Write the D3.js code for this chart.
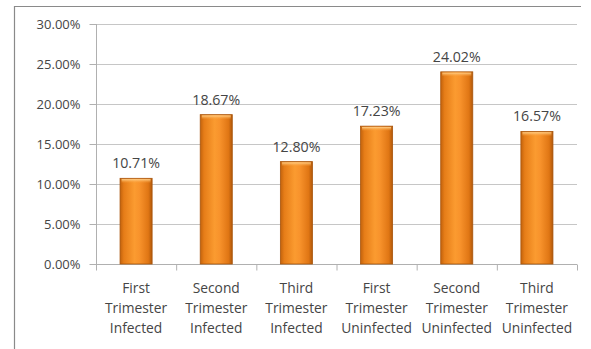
<!DOCTYPE html>
<html>
<head>
<meta charset="utf-8">
<script src="https://cdn.jsdelivr.net/npm/d3@7"></script>
<style>
  html, body { margin: 0; padding: 0; background: #fff; }
  svg { display: block; }
</style>
</head>
<body>
<svg id="chart" width="591" height="349"></svg>
<script>
// Chart data
const categories = [
  ["First", "Trimester", "Infected"],
  ["Second", "Trimester", "Infected"],
  ["Third", "Trimester", "Infected"],
  ["First", "Trimester", "Uninfected"],
  ["Second", "Trimester", "Uninfected"],
  ["Third", "Trimester", "Uninfected"]
];
const values = [10.71, 18.67, 12.80, 17.23, 24.02, 16.57];
const yTicks = [0, 5, 10, 15, 20, 25, 30];

const svg = d3.select("#chart");
const FONT = "'Open Sans', 'Liberation Sans', sans-serif";
const textColor = "#454545";

const margin = { left: 96, right: 14, top: 24, bottom: 85 };
const W = 591, H = 349;
const x0 = margin.left, x1 = W - margin.right;
const y0 = H - margin.bottom, y1 = margin.top;

// Outer frame (left and top edges)
svg.append("path")
  .attr("d", `M14.5,${H} L14.5,6.5 L581,6.5`)
  .attr("fill", "none").attr("stroke", "#8a8a8a").attr("stroke-width", 1.2);

const keys = categories.map((c, i) => i);
const x = d3.scaleBand().domain(keys).range([x0, x1]).paddingInner(0.6).paddingOuter(0.3);
const xb = d3.scaleBand().domain(keys).range([x0, x1]);
const y = d3.scaleLinear().domain([0, 30]).range([y0, y1]);

// Gradients for bar fill
const defs = svg.append("defs");
const g = defs.append("linearGradient").attr("id", "barGrad").attr("x1", "0").attr("x2", "1").attr("y1", "0").attr("y2", "0");
[[0, "#c2620c"], [0.12, "#e67d18"], [0.45, "#fb9b30"], [0.6, "#f8932c"], [0.88, "#e07614"], [1, "#b0580a"]]
  .forEach(([o, c]) => g.append("stop").attr("offset", o).attr("stop-color", c));
const gt = defs.append("linearGradient").attr("id", "topGrad").attr("x1", "0").attr("x2", "0").attr("y1", "0").attr("y2", "1");
gt.append("stop").attr("offset", 0).attr("stop-color", "#ffd08a");
gt.append("stop").attr("offset", 1).attr("stop-color", "#f9a23f").attr("stop-opacity", 0);

// Gridlines
svg.append("g").selectAll("line").data(yTicks.filter(t => t > 0)).join("line")
  .attr("x1", x0).attr("x2", x1)
  .attr("y1", d => Math.round(y(d)) + 0.5).attr("y2", d => Math.round(y(d)) + 0.5)
  .attr("stroke", "#c6c6c6").attr("stroke-width", 1.2);

// Y axis
const yAxis = svg.append("g").attr("transform", `translate(${x0 + 0.5},0)`)
  .call(d3.axisLeft(y).tickValues(yTicks).tickSize(7).tickPadding(9).tickFormat(d => d.toFixed(2) + "%"));
yAxis.select(".domain").attr("stroke", "#b0b0b0").attr("d", `M0,${y1} V${y0}`);
yAxis.selectAll(".tick line").attr("stroke", "#b0b0b0");
yAxis.selectAll("text").attr("fill", textColor).style("font-family", FONT).style("font-size", "13px");

// X axis
const xAxis = svg.append("g").attr("transform", `translate(0,${Math.round(y0) + 0.5})`);
xAxis.append("line").attr("x1", x0).attr("x2", x1).attr("stroke", "#b0b0b0").attr("stroke-width", 1.2);
xAxis.selectAll("line.tk").data(keys.concat([6])).join("line").attr("class", "tk")
  .attr("x1", d => (d < 6 ? xb(d) : x1) + 0.5).attr("x2", d => (d < 6 ? xb(d) : x1) + 0.5)
  .attr("y1", 0).attr("y2", 6).attr("stroke", "#b0b0b0");

// Category labels
const catG = svg.append("g");
categories.forEach((lines, i) => {
  const t = catG.append("text").attr("text-anchor", "middle")
    .attr("fill", textColor).style("font-family", FONT).style("font-size", "13.8px");
  lines.forEach((ln, j) => {
    t.append("tspan").attr("x", xb(i) + xb.bandwidth() / 2).attr("y", 293 + j * 20).text(ln);
  });
});

// Bars
const bars = svg.append("g").selectAll("g").data(values).join("g");
bars.append("rect")
  .attr("x", (d, i) => x(i)).attr("width", x.bandwidth())
  .attr("y", d => y(d)).attr("height", d => y0 - y(d))
  .attr("fill", "url(#barGrad)").attr("stroke", "#a9550c").attr("stroke-width", 0.8);
bars.append("rect")
  .attr("x", (d, i) => x(i) + 1.5).attr("width", x.bandwidth() - 3)
  .attr("y", d => y(d) + 0.8).attr("height", 4)
  .attr("fill", "url(#topGrad)");

// Value labels
svg.append("g").selectAll("text").data(values).join("text")
  .attr("x", (d, i) => x(i) + x.bandwidth() / 2)
  .attr("y", d => y(d) - 10)
  .attr("text-anchor", "middle").attr("fill", textColor)
  .style("font-family", FONT).style("font-size", "14.2px")
  .text(d => d.toFixed(2) + "%");
</script>
</body>
</html>
